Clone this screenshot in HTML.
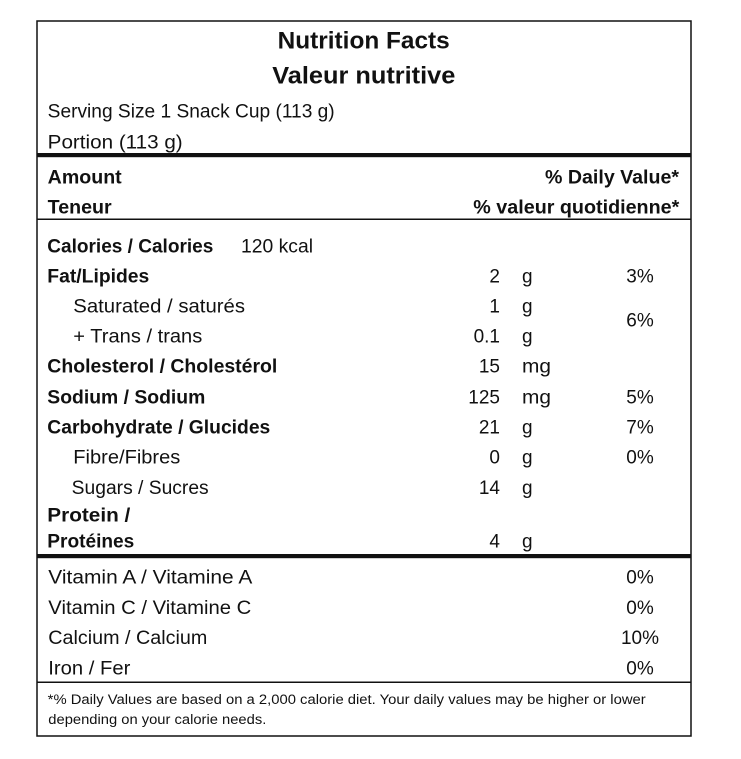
<!DOCTYPE html>
<html>
<head>
<meta charset="utf-8">
<style>
  html, body { margin: 0; padding: 0; background: #fff; }
  svg { display: block; }
  text { font-family: "Liberation Sans", Arial, sans-serif; fill: #111; }
  .b { font-weight: bold; }
</style>
</head>
<body>
<svg width="741" height="759" viewBox="0 0 741 759" xmlns="http://www.w3.org/2000/svg">
  <rect x="0" y="0" width="741" height="759" fill="#fff"/>
  <!-- outer box -->
  <rect x="37" y="21" width="654" height="715" fill="none" stroke="#111" stroke-width="1.5"/>
  <!-- thick rules -->
  <rect x="37" y="153" width="654" height="4.2" fill="#111"/>
  <rect x="37" y="554" width="654" height="4.2" fill="#111"/>
  <!-- thin rules -->
  <line x1="37" y1="219.3" x2="691" y2="219.3" stroke="#111" stroke-width="1.5"/>
  <line x1="37" y1="682.3" x2="691" y2="682.3" stroke="#111" stroke-width="1.5"/>

  <!-- title -->
  <text class="b" x="277.7" y="48.3" font-size="24" textLength="172" lengthAdjust="spacingAndGlyphs">Nutrition Facts</text>
  <text class="b" x="272.3" y="83.3" font-size="24" textLength="183" lengthAdjust="spacingAndGlyphs">Valeur nutritive</text>

  <text x="47.7" y="117.3" font-size="19" textLength="287" lengthAdjust="spacingAndGlyphs">Serving Size 1 Snack Cup (113 g)</text>
  <text x="47.7" y="148.3" font-size="19" textLength="135" lengthAdjust="spacingAndGlyphs">Portion (113 g)</text>

  <text class="b" x="47.7" y="183.3" font-size="19" textLength="74" lengthAdjust="spacingAndGlyphs">Amount</text>
  <text class="b" x="47.7" y="213.3" font-size="19" textLength="64" lengthAdjust="spacingAndGlyphs">Teneur</text>
  <text class="b" x="545" y="183.3" font-size="19" textLength="134" lengthAdjust="spacingAndGlyphs">% Daily Value*</text>
  <text class="b" x="473.3" y="213.3" font-size="19" textLength="206" lengthAdjust="spacingAndGlyphs">% valeur quotidienne*</text>

  <!-- nutrient labels -->
  <text class="b" x="47.3" y="252.3" font-size="19" textLength="166" lengthAdjust="spacingAndGlyphs">Calories / Calories</text>
  <text x="241" y="252.3" font-size="19" textLength="72" lengthAdjust="spacingAndGlyphs">120 kcal</text>
  <text class="b" x="47.3" y="282.3" font-size="19" textLength="102" lengthAdjust="spacingAndGlyphs">Fat/Lipides</text>
  <text x="73.3" y="312.3" font-size="19" textLength="171.7" lengthAdjust="spacingAndGlyphs">Saturated / saturés</text>
  <text x="73.3" y="342.3" font-size="19" textLength="129" lengthAdjust="spacingAndGlyphs">+ Trans / trans</text>
  <text class="b" x="47.3" y="372.7" font-size="19" textLength="230" lengthAdjust="spacingAndGlyphs">Cholesterol / Cholestérol</text>
  <text class="b" x="47.3" y="403.3" font-size="19" textLength="158" lengthAdjust="spacingAndGlyphs">Sodium / Sodium</text>
  <text class="b" x="47.3" y="433.5" font-size="19" textLength="223" lengthAdjust="spacingAndGlyphs">Carbohydrate / Glucides</text>
  <text x="73.3" y="463.7" font-size="19" textLength="107" lengthAdjust="spacingAndGlyphs">Fibre/Fibres</text>
  <text x="71.7" y="494" font-size="19" textLength="137" lengthAdjust="spacingAndGlyphs">Sugars / Sucres</text>
  <text class="b" x="47.3" y="521.7" font-size="19" textLength="83" lengthAdjust="spacingAndGlyphs">Protein /</text>
  <text class="b" x="47.3" y="547.5" font-size="19" textLength="87" lengthAdjust="spacingAndGlyphs">Protéines</text>

  <!-- amounts -->
  <g font-size="19" text-anchor="end">
    <text x="500" y="282.3">2</text>
    <text x="500" y="312.3">1</text>
    <text x="500" y="342.3">0.1</text>
    <text x="500" y="372.7">15</text>
    <text x="500" y="403.3">125</text>
    <text x="500" y="433.5">21</text>
    <text x="500" y="463.7">0</text>
    <text x="500" y="494">14</text>
    <text x="500" y="547.5">4</text>
  </g>
  <!-- units -->
  <g font-size="19">
    <text x="522" y="282.3">g</text>
    <text x="522" y="312.3">g</text>
    <text x="522" y="342.3">g</text>
    <text x="522" y="372.7" textLength="29" lengthAdjust="spacingAndGlyphs">mg</text>
    <text x="522" y="403.3" textLength="29" lengthAdjust="spacingAndGlyphs">mg</text>
    <text x="522" y="433.5">g</text>
    <text x="522" y="463.7">g</text>
    <text x="522" y="494">g</text>
    <text x="522" y="547.5">g</text>
  </g>
  <!-- percents -->
  <g font-size="19" text-anchor="middle">
    <text x="640" y="282.3">3%</text>
    <text x="640" y="326.5">6%</text>
    <text x="640" y="403.3">5%</text>
    <text x="640" y="433.5">7%</text>
    <text x="640" y="463.7">0%</text>
    <text x="640" y="583.5">0%</text>
    <text x="640" y="614">0%</text>
    <text x="640" y="644">10%</text>
    <text x="640" y="674.3">0%</text>
  </g>

  <!-- vitamins -->
  <text x="48.3" y="583.5" font-size="19" textLength="204" lengthAdjust="spacingAndGlyphs">Vitamin A / Vitamine A</text>
  <text x="48.3" y="614" font-size="19" textLength="203" lengthAdjust="spacingAndGlyphs">Vitamin C / Vitamine C</text>
  <text x="48.3" y="644" font-size="19" textLength="159" lengthAdjust="spacingAndGlyphs">Calcium / Calcium</text>
  <text x="48.3" y="674.3" font-size="19" textLength="82" lengthAdjust="spacingAndGlyphs">Iron / Fer</text>

  <!-- footer -->
  <text x="47.7" y="704" font-size="13.5" textLength="598" lengthAdjust="spacingAndGlyphs">*% Daily Values are based on a 2,000 calorie diet.  Your daily values may be higher or lower</text>
  <text x="48.3" y="724" font-size="13.5" textLength="218" lengthAdjust="spacingAndGlyphs">depending on your calorie needs.</text>
</svg>
</body>
</html>
